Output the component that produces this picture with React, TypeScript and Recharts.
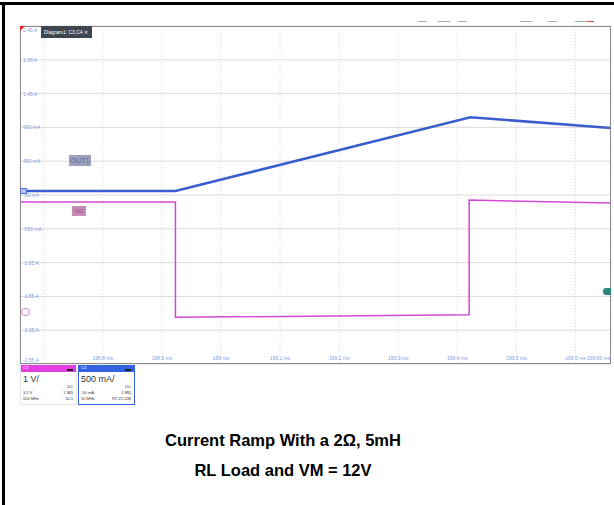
import { LineChart, Line, XAxis, YAxis, CartesianGrid } from 'recharts';

// Kanal C4 (Strom, OUT1) – Zeit in ms, Strom in A
const currentTime = [198.66, 198.923, 199.422, 199.66];
const currentAmps = [0.01, 0.01, 1.1, 0.94];

// Kanal C3 (Spannung, IN2) – Zeit in ms, Spannung in V
const voltageTime = [198.66, 198.923, 198.923, 199.42, 199.42, 199.66];
const voltageVolts = [3.29, 3.29, -0.12, -0.04, 3.35, 3.26];

const timeTicks = [198.7, 198.8, 198.9, 199, 199.1, 199.2, 199.3, 199.4, 199.5, 199.6, 199.66];
const ampTicks = [-2.55, -2.05, -1.55, -1.05, -0.55, -0.05, 0.45, 0.95, 1.45, 1.95, 2.45];

const currentData = currentTime.map((t, i) => ({ t, a: currentAmps[i] }));
const voltageData = voltageTime.map((t, i) => ({ t, v: voltageVolts[i] }));

const TICK_COLOR = '#7f9ce0';
const SMALL_FONT = '"Liberation Sans", Arial, sans-serif';

function fmtAmp(v: number) {
  if (Math.abs(v) >= 1) return `${v.toFixed(2)} A`;
  return `${Math.round(v * 1000)} mA`;
}

function fmtTime(v: number) {
  return `${parseFloat(v.toFixed(2))} ms`;
}

// eslint-disable-next-line @typescript-eslint/no-explicit-any
function YTick(props: any) {
  const { x, y, payload, index } = props;
  let dy = 2;
  if (index === 0) dy = -2;
  if (index === ampTicks.length - 1) dy = 6;
  return (
    <text x={x - 5} y={y + dy} fill={TICK_COLOR} fontSize={5} fontFamily={SMALL_FONT} textAnchor="start">
      {fmtAmp(payload.value)}
    </text>
  );
}

// eslint-disable-next-line @typescript-eslint/no-explicit-any
function XTick(props: any) {
  const { x, y, payload } = props;
  if (payload.value < 198.75) return null;
  const last = payload.value > 199.65;
  return (
    <text
      x={last ? x - 1 : x}
      y={y + 4}
      fill={TICK_COLOR}
      fontSize={5}
      fontFamily={SMALL_FONT}
      textAnchor={last ? 'end' : 'middle'}
    >
      {fmtTime(payload.value)}
    </text>
  );
}

const abs = (l: number, t: number, w: number, h: number): React.CSSProperties => ({
  position: 'absolute',
  left: l,
  top: t,
  width: w,
  height: h,
});

function ChannelBox({ left, color, name, scale, coupling, offset, imp, bw, probe, border }: any) {
  return (
    <div style={{ ...abs(left, 365, 57, 40), fontFamily: SMALL_FONT, color: '#333', boxSizing: 'border-box', border: `1px solid ${border ? color : '#e6e6e6'}`, borderTop: 'none' }}>
      <div style={{ height: 7, background: color, position: 'relative' }}>
        <span style={{ position: 'absolute', left: 2, top: 0, fontSize: 4, color: '#fff' }}>{name}</span>
        <span style={{ position: 'absolute', right: 3, top: 4, width: 6, height: 2, background: '#222' }} />
      </div>
      <div style={{ position: 'absolute', left: 2, top: 9, fontSize: 9, lineHeight: '10px' }}>{scale}</div>
      <div style={{ position: 'absolute', right: 3, top: 19, fontSize: 4 }}>{coupling}</div>
      <div style={{ position: 'absolute', left: 2, top: 25, fontSize: 4 }}>{offset}</div>
      <div style={{ position: 'absolute', right: 3, top: 25, fontSize: 4 }}>{imp}</div>
      <div style={{ position: 'absolute', left: 2, top: 31, fontSize: 4 }}>{bw}</div>
      <div style={{ position: 'absolute', right: 3, top: 31, fontSize: 4 }}>{probe}</div>
    </div>
  );
}

const titleStyle: React.CSSProperties = {
  position: 'absolute',
  left: 0,
  width: 566,
  textAlign: 'center',
  fontFamily: '"Liberation Sans", Arial, sans-serif',
  fontWeight: 'bold',
  fontSize: 16.5,
  lineHeight: '20px',
  color: '#000',
};

export default function App() {
  return (
    <div style={{ position: 'absolute', left: 0, top: 0, width: 614, height: 505, background: '#fff', overflow: 'hidden' }}>
      {/* äußerer Rahmen */}
      <div style={{ ...abs(0, 2, 614, 3), background: '#000' }} />
      <div style={{ ...abs(2, 2, 3, 503), background: '#000' }} />

      {/* Toolbar-Andeutung oben rechts */}
      {[418, 438, 458, 520, 548, 575].map((x, i) => (
        <div key={i} style={{ ...abs(x, 21, i % 2 ? 12 : 9, 1), background: '#aaa' }} />
      ))}
      <div style={{ ...abs(587, 21, 7, 1), background: '#e04040' }} />

      <div style={{ position: 'absolute', left: 0, top: 0 }}>
        <LineChart width={614} height={505} margin={{ top: 26, right: 3, bottom: 141, left: 20 }}>
          <CartesianGrid yAxisId="i" horizontal vertical={false} stroke="#dcdcdc" />
          <CartesianGrid yAxisId="i" horizontal={false} vertical stroke="#d6d6d6" strokeDasharray="1 2" />
          <XAxis
            type="number"
            dataKey="t"
            domain={[198.66, 199.66]}
            ticks={timeTicks}
            interval={0}
            allowDataOverflow
            mirror
            axisLine={false}
            tickLine={false}
            tick={XTick}
            height={20}
          />
          <YAxis
            yAxisId="i"
            domain={[-2.55, 2.45]}
            ticks={ampTicks}
            interval={0}
            allowDataOverflow
            mirror
            axisLine={false}
            tickLine={false}
            tick={YTick}
            width={20}
          />
          <YAxis yAxisId="v" domain={[-1.5, 8.5]} hide allowDataOverflow />
          <Line
            yAxisId="v"
            data={voltageData}
            dataKey="v"
            type="linear"
            stroke="#d447d8"
            strokeWidth={1.5}
            dot={false}
            isAnimationActive={false}
          />
          <Line
            yAxisId="i"
            data={currentData}
            dataKey="a"
            type="linear"
            stroke="#3b5ecf"
            strokeWidth={2.6}
            dot={false}
            isAnimationActive={false}
          />
        </LineChart>
      </div>

      {/* Rahmen des Diagramms */}
      <div style={{ ...abs(20, 26, 591, 338), border: '1px solid #8a8a8a', boxSizing: 'border-box' }} />
      <div style={{ position: 'absolute', left: 20, top: 26, width: 0, height: 0, borderTop: '5px solid #e02020', borderRight: '5px solid transparent' }} />
      <div style={{ ...abs(41, 26, 51, 12), background: '#3e4650', color: '#fff', fontSize: 5, lineHeight: '12px', fontFamily: SMALL_FONT, paddingLeft: 3, boxSizing: 'border-box' }}>
        Diagram1: C3,C4 ✕
      </div>

      {/* Trace-Labels */}
      <div style={{ ...abs(69, 155, 22, 11), background: '#9aa0bc', color: '#5a6aa8', fontSize: 7, lineHeight: '11px', textAlign: 'center', fontFamily: SMALL_FONT }}>OUT1</div>
      <div style={{ ...abs(72, 206, 14, 10), background: '#c58ab8', color: '#9a4a8a', fontSize: 6, lineHeight: '10px', textAlign: 'center', fontFamily: SMALL_FONT }}>IN2</div>
      <div style={{ ...abs(20, 188, 7, 6), background: '#b8c4ec', border: '1px solid #5070d0', boxSizing: 'border-box' }} />
      <div style={{ ...abs(21, 308, 9, 8), border: '1px solid #e080e0', borderRadius: 4, boxSizing: 'border-box' }} />
      <div style={{ ...abs(603, 288, 8, 7), background: '#2a8a80', borderRadius: '3px 0 0 3px' }} />

      {/* Kanalinfos */}
      <ChannelBox left={20} color="#e23ee2" name="C3" scale="1 V/" coupling="DC" offset="3.5 V" imp="1 MΩ" bw="500 MHz" probe="10:1" />
      <ChannelBox left={78} color="#3462e0" name="C4" scale="500 mA/" coupling="DC" offset="-50 mA" imp="1 MΩ" bw="50 MHz" probe="RT-ZC15B" border />

      {/* Beschriftung */}
      <div style={{ ...titleStyle, top: 430 }}>Current Ramp With a 2Ω, 5mH</div>
      <div style={{ ...titleStyle, top: 460 }}>RL Load and VM = 12V</div>
    </div>
  );
}
